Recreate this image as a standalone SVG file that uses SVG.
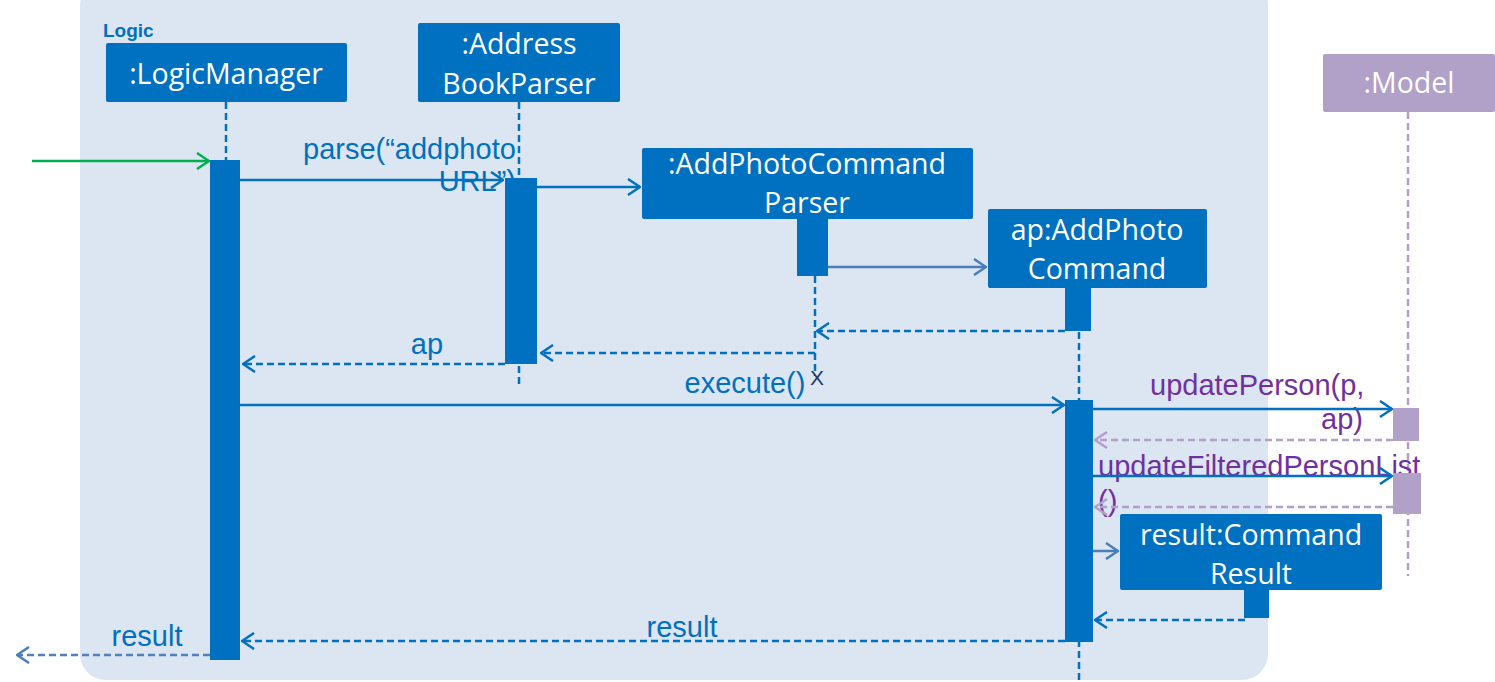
<svg xmlns="http://www.w3.org/2000/svg" width="1495" height="682" viewBox="0 0 1495 682">
<style>
.node{fill:#0070C0}
.model{fill:#B1A0C7}
.nt{font-family:"Open Sans","Noto Sans",sans-serif;font-size:28.5px;fill:#fff;text-anchor:middle}
.ml{font-family:"Liberation Sans",Arial,sans-serif;font-size:29px;fill:#0070C0}
.pl{font-family:"Liberation Sans",Arial,sans-serif;font-size:29px;fill:#7030A0}
.life{stroke:#0070C0;stroke-width:2.5;stroke-dasharray:7 4;fill:none}
.lifem{stroke:#B1A0C7;stroke-width:2.5;stroke-dasharray:7 4;fill:none}
.call{stroke:#0070C0;stroke-width:2.5;fill:none;marker-end:url(#ab)}
.create{stroke:#4A7EBB;stroke-width:2.5;fill:none;marker-end:url(#as)}
.ret{stroke:#0070C0;stroke-width:2.5;stroke-dasharray:7 4;fill:none;marker-end:url(#ab)}
.retm{stroke:#B1A0C7;stroke-width:2.5;stroke-dasharray:7 4;fill:none;marker-end:url(#am)}
.rets{stroke:#4F81BD;stroke-width:2.5;stroke-dasharray:7 4;fill:none;marker-end:url(#as)}
.found{stroke:#00B050;stroke-width:2.5;fill:none;marker-end:url(#ag)}
</style>
<defs>
<marker id="ab" viewBox="0 0 14 18" refX="13" refY="9" markerWidth="14" markerHeight="18" markerUnits="userSpaceOnUse" orient="auto"><path d="M1,1 L13,9 L1,17" fill="none" stroke="#0070C0" stroke-width="2.5"/></marker>
<marker id="as" viewBox="0 0 14 18" refX="13" refY="9" markerWidth="14" markerHeight="18" markerUnits="userSpaceOnUse" orient="auto"><path d="M1,1 L13,9 L1,17" fill="none" stroke="#4A7EBB" stroke-width="2.5"/></marker>
<marker id="am" viewBox="0 0 14 18" refX="13" refY="9" markerWidth="14" markerHeight="18" markerUnits="userSpaceOnUse" orient="auto"><path d="M1,1 L13,9 L1,17" fill="none" stroke="#B1A0C7" stroke-width="2.5"/></marker>
<marker id="ag" viewBox="0 0 14 18" refX="13" refY="9" markerWidth="14" markerHeight="18" markerUnits="userSpaceOnUse" orient="auto"><path d="M1,1 L13,9 L1,17" fill="none" stroke="#00B050" stroke-width="2.5"/></marker>
</defs>
<rect width="1495" height="682" fill="#fff"/>
<g id="logic-frame">
<rect x="80" y="-20" width="1188" height="700" rx="26" fill="#DCE6F2"/>
<text x="103" y="37" font-family="'Liberation Sans',Arial,sans-serif" font-size="19" font-weight="bold" fill="#0070C0">Logic</text>
</g>
<g id="lifelines">
<line class="life" x1="226" y1="102" x2="226" y2="160"/>
<line class="life" x1="519" y1="102" x2="519" y2="384"/>
<line class="life" x1="815" y1="276" x2="815" y2="376"/>
<line class="life" x1="1079" y1="288" x2="1079" y2="682"/>
<line class="lifem" x1="1408" y1="112" x2="1408" y2="576"/>
</g>
<g id="labels">
<text class="ml" x="303" y="159">parse(“addphoto</text>
<text class="ml" x="516" y="191" text-anchor="end">URL”)</text>
<text class="ml" x="427" y="354" text-anchor="middle">ap</text>
<text class="ml" x="745" y="393" text-anchor="middle">execute()</text>
<text x="817" y="385" font-family="'Liberation Sans',Arial,sans-serif" font-size="21" fill="#1F3864" text-anchor="middle">X</text>
<text class="pl" x="1150" y="395">updatePerson(p,</text>
<text class="pl" x="1363" y="429" text-anchor="end">ap)</text>
<text class="pl" x="1098" y="476">updateFilteredPersonList</text>
<text class="pl" x="1098" y="511">()</text>
<text class="ml" x="682" y="637" text-anchor="middle">result</text>
<text class="ml" x="147" y="646" text-anchor="middle">result</text>
</g>
<g id="connectors">
<line class="found" x1="32" y1="161" x2="209" y2="161"/>
<line class="call" x1="240" y1="180" x2="503" y2="180"/>
<line class="call" x1="537" y1="187" x2="640" y2="187"/>
<line class="create" x1="828" y1="267" x2="986" y2="267"/>
<line class="ret" x1="1065" y1="331" x2="817" y2="331"/>
<line class="ret" x1="815" y1="353" x2="541" y2="353"/>
<line class="ret" x1="505" y1="364" x2="243" y2="364"/>
<line class="call" x1="240" y1="405" x2="1064" y2="405"/>
<line class="call" x1="1093" y1="409" x2="1392" y2="409"/>
<line class="retm" x1="1393" y1="440" x2="1095" y2="440"/>
<line class="call" x1="1093" y1="476" x2="1392" y2="476"/>
<line class="retm" x1="1393" y1="507" x2="1095" y2="507"/>
<line class="create" x1="1079" y1="551" x2="1118" y2="551"/>
<line class="ret" x1="1245" y1="620" x2="1095" y2="620"/>
<line class="ret" x1="1065" y1="641" x2="242" y2="641"/>
<line class="rets" x1="210" y1="655" x2="17" y2="655"/>
</g>
<g id="logicmanager">
<rect class="node" x="106" y="43" width="241" height="59" rx="2"/>
<text class="nt" x="226" y="84">:LogicManager</text>
<rect class="node" x="210" y="160" width="30" height="500"/>
</g>
<g id="addressbookparser">
<rect class="node" x="418" y="23" width="202" height="79" rx="2"/>
<text class="nt" x="519" y="54">:Address</text>
<text class="nt" x="519" y="94">BookParser</text>
<rect class="node" x="505" y="178" width="32" height="186"/>
</g>
<g id="addphotocommandparser">
<rect class="node" x="642" y="148" width="331" height="71" rx="2"/>
<text class="nt" x="807" y="174">:AddPhotoCommand</text>
<text class="nt" x="807" y="213">Parser</text>
<rect class="node" x="797" y="219" width="31" height="57"/>
</g>
<g id="addphotocommand">
<rect class="node" x="988" y="209" width="219" height="79" rx="2"/>
<text class="nt" x="1097" y="240">ap:AddPhoto</text>
<text class="nt" x="1097" y="279">Command</text>
<rect class="node" x="1065" y="288" width="26" height="43"/>
<rect class="node" x="1065" y="400" width="28" height="242"/>
</g>
<g id="model">
<rect class="model" x="1323" y="54" width="172" height="58" rx="2"/>
<text class="nt" x="1409" y="93">:Model</text>
<rect class="model" x="1393" y="408" width="26" height="33"/>
<rect class="model" x="1393" y="473" width="28" height="41"/>
</g>
<g id="commandresult">
<rect class="node" x="1120" y="514" width="262" height="76" rx="2"/>
<text class="nt" x="1251" y="545">result:Command</text>
<text class="nt" x="1251" y="584">Result</text>
<rect class="node" x="1244" y="590" width="25" height="28"/>
</g>
</svg>
